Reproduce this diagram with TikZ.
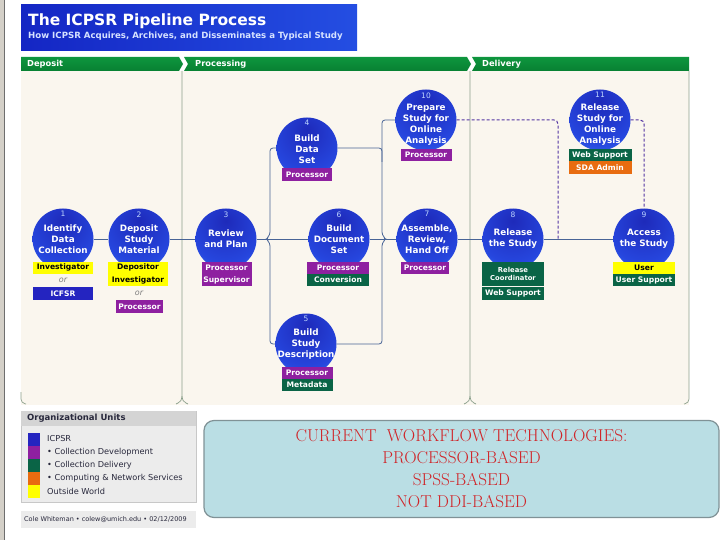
\documentclass[tikz,border=0pt]{standalone}
\usepackage{fontspec}
\newfontfamily\ppsans{DejaVu Sans}
\usepackage{tikz}

\definecolor{ppframe}{RGB}{212,208,200}
\definecolor{ppframeline}{RGB}{110,110,110}
\definecolor{pptitleleft}{RGB}{20,38,196}
\definecolor{pptitleright}{RGB}{36,78,226}
\definecolor{ppsubtext}{RGB}{214,226,255}
\definecolor{ppbeige}{RGB}{250,246,238}
\definecolor{ppheadtop}{RGB}{14,150,62}
\definecolor{ppheadmid}{RGB}{38,186,88}
\definecolor{ppheadbot}{RGB}{8,128,50}
\definecolor{ppdivide}{RGB}{140,160,140}
\definecolor{ppconnect}{RGB}{72,100,150}
\definecolor{ppdashed}{RGB}{82,52,162}
\definecolor{ppballcore}{RGB}{30,42,186}
\definecolor{ppballmid}{RGB}{38,70,222}
\definecolor{ppballrim}{RGB}{60,125,246}
\definecolor{ppballglow}{RGB}{120,188,255}
\definecolor{ppnumber}{RGB}{190,214,255}
\definecolor{ppblue}{RGB}{36,36,192}
\definecolor{pppurple}{RGB}{142,32,160}
\definecolor{ppgreen}{RGB}{10,100,70}
\definecolor{pporange}{RGB}{232,108,16}
\definecolor{ppyellow}{RGB}{255,255,0}
\definecolor{ppor}{RGB}{125,125,125}
\definecolor{pplegbody}{RGB}{236,236,236}
\definecolor{pplegline}{RGB}{200,200,200}
\definecolor{pplegtop}{RGB}{212,212,212}
\definecolor{pplegtext}{RGB}{40,40,60}
\definecolor{ppnotefill}{RGB}{186,222,228}
\definecolor{ppnoteline}{RGB}{128,146,150}
\definecolor{ppnotetext}{RGB}{208,36,40}

\pgfdeclareradialshading{ppball}{\pgfpoint{0bp}{15bp}}{%
  color(0bp)=(ppballcore); color(30bp)=(ppballmid); color(46bp)=(ppballrim);
  color(57bp)=(ppballglow); color(100bp)=(ppballglow)}

\tikzset{
  ppstep/.style={circle, shade, shading=ppball, minimum size=61pt,
                 inner sep=0pt},
  ppnum/.style={anchor=north, inner sep=0pt, text=ppnumber,
                font=\ppsans\fontsize{7.5}{8}\selectfont},
  pptext/.style={inner sep=0pt, text=white, align=center,
                 font=\ppsans\bfseries\fontsize{8.8}{11}\selectfont},
  ppunit/.style={rectangle, minimum height=12pt, inner sep=0pt, text=white,
                 font=\ppsans\bfseries\fontsize{7.6}{8}\selectfont},
  ppproc/.style={ppunit, fill=pppurple},
  ppdel/.style={ppunit, fill=ppgreen},
  ppcns/.style={ppunit, fill=pporange},
  ppicpsr/.style={ppunit, fill=ppblue},
  ppout/.style={ppunit, fill=ppyellow, text=black},
  ppor/.style={inner sep=0pt, text=ppor,
               font=\ppsans\itshape\fontsize{8}{9}\selectfont},
  ppline/.style={draw=ppconnect, line width=0.8pt},
  ppdash/.style={draw=ppdashed, line width=1pt, dash pattern=on 3pt off 2pt},
  ppdivider/.style={draw=ppdivide, line width=0.7pt},
  pphead/.style={top color=ppheadtop, middle color=ppheadmid,
                 bottom color=ppheadbot},
  ppheadtext/.style={anchor=west, inner sep=0pt, text=white,
                     font=\ppsans\bfseries\fontsize{8.3}{9}\selectfont},
  pptitle/.style={anchor=west, inner sep=0pt, text=white,
                  font=\ppsans\bfseries\fontsize{15.5}{17}\selectfont},
  ppsubtitle/.style={anchor=west, inner sep=0pt, text=ppsubtext,
                     font=\ppsans\bfseries\fontsize{8.6}{10}\selectfont},
  ppswatch/.style={minimum width=12pt, minimum height=13pt, inner sep=0pt},
  ppkey/.style={anchor=west, inner sep=0pt, text=pplegtext,
                font=\ppsans\fontsize{8.2}{9}\selectfont},
  ppnote/.style={draw=ppnoteline, fill=ppnotefill, line width=1.2pt,
                 rounded corners=10pt, minimum width=515pt,
                 minimum height=97pt, inner sep=0pt, align=center,
                 text=ppnotetext, font=\fontsize{17.2}{22}\selectfont}
}

\begin{document}
\begin{tikzpicture}[x=1pt, y=-1pt]
  \useasboundingbox (0,0) rectangle (720,540);
  \fill[ppframe] (0,0) rectangle (4,540);
  \draw[ppframeline] (4.5,0) -- (4.5,540);

  % title block
  \shade[left color=pptitleleft, right color=pptitleright]
    (21,5) rectangle (357,51);
  \node[pptitle] (title) at (28,21) {The ICPSR Pipeline Process};
  \node[ppsubtitle] (subtitle) at (28,36)
    {How ICPSR Acquires, Archives, and Disseminates a Typical Study};

  % the three stages
  \fill[ppbeige] (21,71) rectangle (689,405);
  \shade[pphead] (21,57) -- (179,57) -- (183,64) -- (179,71) -- (21,71) -- cycle;
  \shade[pphead] (184,57) -- (467,57) -- (471,64) -- (467,71) -- (184,71)
    -- (188,64) -- cycle;
  \shade[pphead] (472,57) -- (689,57) -- (689,71) -- (472,71) -- (476,64) -- cycle;
  \node[ppheadtext] (hdep) at (27,64) {Deposit};
  \node[ppheadtext] (hproc) at (195,64.5) {Processing};
  \node[ppheadtext] (hdel) at (482,64.5) {Delivery};
  \foreach \x in {182, 470} {
    \draw[ppdivider, rounded corners=4pt] (\x,71) -- (\x,401) -- (\x-6,404);
    \draw[ppdivider, rounded corners=4pt] (\x,396) -- (\x,401) -- (\x+6,404);
  }
  \draw[ppdivider, rounded corners=4pt] (21,392) -- (21,403) -- (26,404);
  \draw[ppdivider, rounded corners=4pt] (689,71) -- (689,403) -- (684,404);

  % steps of the pipeline
  \foreach \n/\x/\y/\dy/\txt in {
      1/63/239/0/{Identify\\Data\\Collection},
      2/139/239/0/{Deposit\\Study\\Material},
      3/226/239/0/{Review\\and Plan},
      4/307/148/-1/{Build\\Data\\Set},
      5/306/344/0/{Build\\Study\\Description},
      6/339/239/0/{Build\\Document\\Set},
      7/427/239/0/{Assemble,\\Review,\\Hand Off},
      8/513/239/0/{Release\\the Study},
      9/644/239/0/{Access\\the Study},
      10/426/120/-5/{Prepare\\Study for\\Online\\Analysis},
      11/600/120/-5/{Release\\Study for\\Online\\Analysis}} {
    \node[ppstep] (s\n) at (\x,\y) {};
    \node[ppnum] (n\n) at ([yshift=-3pt]s\n.north) {\n};
    \node[pptext] (t\n) at ([yshift=\dy pt]s\n.center) {\txt};
  }

  % connectors
  \draw[ppline] (s1) -- (s2) -- (s3) -- (s6) -- (s7) -- (s8) -- (s9);
  \draw[ppline, rounded corners=3pt] (s4) -| (270,235) -- (266,239)
    -- (270,243) |- (s5);
  \draw[ppline, rounded corners=3pt] (s10) -| (382,235) -- (386,239)
    -- (382,243) |- (s5);
  \draw[ppline, rounded corners=3pt] (s4) -| (382,162);
  \coordinate (j8) at (558,239);
  \draw[ppdash, rounded corners=4pt] (s10) -| (j8);
  \draw[ppdash, rounded corners=4pt] (s11) -| (s9);

  % who does each step
  \node[ppout, minimum width=60pt] (u1a) at (63,267.5) {Investigator};
  \node[ppor] (o1) at (63,280.5) {or};
  \node[ppicpsr, minimum width=60pt, minimum height=13pt] (u1b)
    at (63,293.5) {ICFSR};
  \node[ppout, minimum width=60pt] (u2a) at (138,267.5) {Depositor};
  \node[ppout, minimum width=60pt] (u2b) at (138,280) {Investigator};
  \node[ppor] (o2) at (139,293) {or};
  \node[ppproc, minimum width=47pt, minimum height=13pt] (u2c)
    at (139.5,306.5) {Processor};
  \node[ppproc, minimum width=50pt] (u3a) at (226.5,267.5) {Processor};
  \node[ppproc, minimum width=50pt] (u3b) at (226.5,280) {Supervisor};
  \node[ppproc, minimum width=50pt, minimum height=13pt] (u4)
    at (307,174.5) {Processor};
  \node[ppproc, minimum width=51pt] (u5a) at (307,372.5) {Processor};
  \node[ppdel, minimum width=51pt] (u5b) at (307,385) {Metadata};
  \node[ppproc, minimum width=62pt] (u6a) at (338,267.5) {Processor};
  \node[ppdel, minimum width=62pt] (u6b) at (338,280) {Conversion};
  \node[ppproc, minimum width=48pt] (u7) at (425,267.5) {Processor};
  \node[ppdel, minimum width=62pt, minimum height=24pt, align=center,
        font=\ppsans\bfseries\fontsize{6.8}{8.5}\selectfont] (u8a)
    at (513,274) {Release\\Coordinator};
  \node[ppdel, minimum width=62pt, minimum height=13pt] (u8b)
    at (513,293.5) {Web Support};
  \node[ppout, minimum width=62pt] (u9a) at (644,267.5) {User};
  \node[ppdel, minimum width=62pt] (u9b) at (644,280) {User Support};
  \node[ppproc, minimum width=51pt] (u10) at (426,155) {Processor};
  \node[ppdel, minimum width=63pt] (u11a) at (600,155) {Web Support};
  \node[ppcns, minimum width=63pt, minimum height=13pt] (u11b)
    at (600,167.5) {SDA Admin};

  % legend
  \fill[pplegbody, draw=pplegline] (21,411) rectangle (196,502);
  \fill[pplegtop] (21,411) rectangle (196,426);
  \node[ppkey, font=\ppsans\bfseries\fontsize{8.5}{9}\selectfont] (legtitle)
    at (27,418.5) {Organizational Units};
  \foreach \c/\txt [count=\k] in {ppblue/ICPSR,
      pppurple/{• Collection Development}, ppgreen/{• Collection Delivery},
      pporange/{• Computing \& Network Services}, ppyellow/Outside World} {
    \node[ppswatch, fill=\c] (k\k) at (33.5,439+13*\k-13) {};
    \node[ppkey] (key\k) at (47,439+13*\k-13) {\txt};
  }
  \fill[pplegbody] (21,511) rectangle (196,528);
  \node[ppkey, font=\ppsans\fontsize{6.5}{8}\selectfont] (credit)
    at (24,519.5) {Cole Whiteman • colew@umich.edu • 02/12/2009};

  \node[ppnote] (note) at (461.5,469)
    {CURRENT\ \ WORKFLOW TECHNOLOGIES:\\PROCESSOR-BASED\\SPSS-BASED\\NOT DDI-BASED};
\end{tikzpicture}
\end{document}
